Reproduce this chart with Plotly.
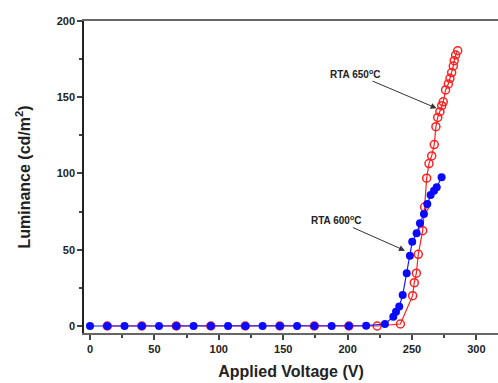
import plotly.graph_objects as go

# RTA 600°C (blue, filled)
v600 = [0, 13.4, 26.8, 40.2, 53.6, 67, 80.4, 93.8, 107.2, 120.6, 134, 147.4, 160.8, 174.2,
        187.6, 201, 214.4, 229, 235.5, 237.6, 240.1, 242.8, 245.9, 248.4, 250.2, 253.6,
        256.2, 259.3, 261.9, 264.5, 267.1, 269.2, 273]
l600 = [0, 0, 0, 0, 0, 0, 0, 0, 0, 0, 0, 0, 0, 0,
        0, 0, 0.2, 1.3, 6.1, 9.4, 12.7, 20.3, 34.6, 46.1, 55.3, 60.8,
        67.3, 73.4, 80, 85.9, 88.7, 91, 97.5]

# RTA 650°C (red, open)
v650 = [13.4, 40.2, 67, 93.8, 120.6, 147.4, 174.2, 201, 223, 241, 250.5, 251.8, 253.4,
        254.9, 258.3, 259.8, 261.4, 263.2, 265.3, 267.3, 268.6, 270, 271.7, 273.1, 274.3,
        276.1, 278.2, 279.5, 280.8, 282.1, 282.8, 283.9, 285.5]
l650 = [0, 0, 0, 0, 0, 0, 0, 0, 0, 1.3, 19.9, 28.4, 34.6,
        47, 62.5, 78, 96.9, 106.5, 111.5, 119, 130.7, 136.8, 140.5, 144.5, 147,
        154.8, 158.7, 162.4, 166.2, 170.5, 174, 177.7, 180.5]

x_ticks = [0, 50, 100, 150, 200, 250, 300]
y_ticks = [0, 50, 100, 150, 200]

fig = go.Figure()
fig.add_trace(go.Scatter(
    x=v650, y=l650, mode="lines+markers", name="RTA 650°C",
    line=dict(color="#ff2020", width=1.2),
    marker=dict(symbol="circle-open", size=8, color="#ff2020", line=dict(width=1.5, color="#ff2020")),
))
fig.add_trace(go.Scatter(
    x=v600, y=l600, mode="lines+markers", name="RTA 600°C",
    line=dict(color="#1a1aff", width=1.2),
    marker=dict(symbol="circle", size=8, color="#0a0aff"),
))

font_b = "Liberation Sans, Arial, sans-serif"

fig.add_annotation(x=269.1, y=142.8, ax=205.7, ay=165.5, xref="x", yref="y", axref="x", ayref="y",
                   text="RTA 650<sup>o</sup>C", showarrow=True, arrowhead=2, arrowsize=1.2,
                   arrowwidth=1, arrowcolor="#333",
                   font=dict(family=font_b, size=10, color="#222", weight="bold"))
fig.add_annotation(x=244.6, y=49.4, ax=191, ay=69.5, xref="x", yref="y", axref="x", ayref="y",
                   text="RTA 600<sup>o</sup>C", showarrow=True, arrowhead=2, arrowsize=1.2,
                   arrowwidth=1, arrowcolor="#333",
                   font=dict(family=font_b, size=10, color="#222", weight="bold"))

fig.update_layout(
    width=498, height=383,
    margin=dict(l=84, r=0, t=21, b=50),
    paper_bgcolor="white", plot_bgcolor="white",
    showlegend=False,
    font=dict(family=font_b, color="#222"),
)
fig.update_xaxes(
    range=[-4.66, 316.8], tickvals=x_ticks, ticktext=[str(t) for t in x_ticks],
    ticks="outside", ticklen=5, tickwidth=1.5, tickcolor="#444",
    minor=dict(tickvals=[25, 75, 125, 175, 225, 275], ticks="outside", ticklen=3, tickcolor="#444"),
    showline=True, linecolor="#666", linewidth=2, mirror=True,
    showgrid=False, zeroline=False,
    tickfont=dict(family=font_b, size=11, color="#222", weight="bold"),
    title=dict(text="Applied Voltage (V)",
               font=dict(family=font_b, size=16, color="#222", weight="bold"), standoff=12),
)
fig.update_yaxes(
    range=[-4.6, 200], tickvals=y_ticks, ticktext=[str(t) for t in y_ticks],
    ticks="outside", ticklen=5, tickwidth=1.5, tickcolor="#444",
    minor=dict(tickvals=[25, 75, 125, 175], ticks="outside", ticklen=3, tickcolor="#444"),
    showline=True, linecolor="#222", linewidth=1.5, mirror=False,
    showgrid=False, zeroline=False,
    tickfont=dict(family=font_b, size=11, color="#222", weight="bold"),
    title=dict(text="Luminance (cd/m<sup>2</sup>)",
               font=dict(family=font_b, size=16, color="#222", weight="bold"), standoff=22),
)

fig.write_html("out.html")
